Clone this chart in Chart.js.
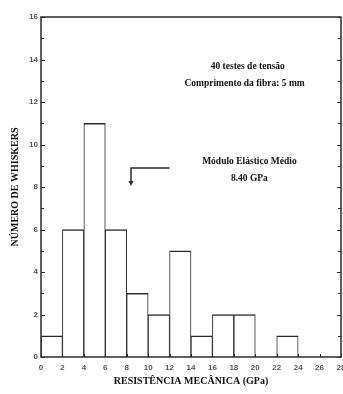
<!DOCTYPE html>
<html>
<head>
<meta charset="utf-8">
<script src="https://cdn.jsdelivr.net/npm/chart.js@4"></script>
<style>
  html, body { margin: 0; padding: 0; background: #fff; }
  #wrap { width: 343px; height: 394px; }
</style>
</head>
<body>
<div id="wrap"><canvas id="grafico"></canvas></div>
<script>
// classes de resistencia (GPa): centro de cada intervalo de 2 GPa
const centros = [1, 3, 5, 7, 9, 11, 13, 15, 17, 19, 21, 23, 25, 27];
const contagens = [1, 6, 11, 6, 3, 2, 5, 1, 2, 2, 0, 1, 0, 0];
const ticksX = [0, 2, 4, 6, 8, 10, 12, 14, 16, 18, 20, 22, 24, 26, 28];
const ticksY = [0, 2, 4, 6, 8, 10, 12, 14, 16];
const moduloMedio = 8.4;

const corLinha = '#2b2b2b';
const fonteSerif = '"Liberation Serif", "DejaVu Serif", serif';

// marcas internas, moldura e anotacoes
const extras = {
  id: 'extras',
  afterDraw(chart) {
    const { ctx, chartArea: a, scales: { x, y } } = chart;
    ctx.save();
    ctx.strokeStyle = corLinha;
    ctx.lineWidth = 1.5;
    ctx.strokeRect(a.left, a.top, a.right - a.left, a.bottom - a.top);

    ctx.lineWidth = 1;
    for (let v = 0; v <= 16; v++) {
      const py = Math.round(y.getPixelForValue(v)) + 0.5;
      const len = v % 2 === 0 ? 4 : 3;
      ctx.beginPath();
      ctx.moveTo(a.left, py); ctx.lineTo(a.left + len, py);
      ctx.moveTo(a.right, py); ctx.lineTo(a.right - len, py);
      ctx.stroke();
    }
    ticksX.forEach(v => {
      const px = Math.round(x.getPixelForValue(v)) + 0.5;
      ctx.beginPath();
      ctx.moveTo(px, a.bottom); ctx.lineTo(px, a.bottom - 3);
      ctx.stroke();
    });

    // textos
    ctx.fillStyle = '#111';
    ctx.textAlign = 'center';
    ctx.textBaseline = 'middle';
    ctx.font = 'bold 9.5px ' + fonteSerif;
    ctx.fillText('40 testes de tensão', x.getPixelForValue(19.3), y.getPixelForValue(13.68));
    ctx.fillText('Comprimento da fibra: 5 mm', x.getPixelForValue(19.0), y.getPixelForValue(12.85));
    ctx.fillText('Módulo Elástico Médio', x.getPixelForValue(19.45), y.getPixelForValue(9.18));
    ctx.fillText('8.40 GPa', x.getPixelForValue(19.45), y.getPixelForValue(8.4));

    // seta apontando para o modulo medio
    const xa = x.getPixelForValue(moduloMedio);
    const xb = x.getPixelForValue(12.0);
    const y1 = y.getPixelForValue(8.9);
    const y2 = y.getPixelForValue(8.05);
    ctx.strokeStyle = corLinha;
    ctx.lineWidth = 1.5;
    ctx.beginPath();
    ctx.moveTo(xb, y1); ctx.lineTo(xa, y1); ctx.lineTo(xa, y2 - 4);
    ctx.stroke();
    ctx.fillStyle = corLinha;
    ctx.beginPath();
    ctx.moveTo(xa - 2.5, y2 - 5); ctx.lineTo(xa + 2.5, y2 - 5); ctx.lineTo(xa, y2);
    ctx.closePath();
    ctx.fill();
    ctx.restore();
  }
};

function configurar() {
  const canvas = document.getElementById('grafico');
  new Chart(canvas, {
    type: 'bar',
    data: {
      datasets: [{
        data: centros.map((c, i) => ({ x: c, y: contagens[i] })),
        backgroundColor: '#ffffff',
        borderColor: corLinha,
        borderWidth: { top: 1.6, left: 1, right: 1, bottom: 0 },
        barPercentage: 1,
        categoryPercentage: 1,
      }],
    },
    options: {
      responsive: true,
      maintainAspectRatio: false,
      animation: false,
      layout: { padding: { top: 17, right: 2, left: 0, bottom: 0 } },
      plugins: { legend: { display: false }, tooltip: { enabled: false } },
      scales: {
        x: {
          type: 'linear',
          offset: false,
          min: 0,
          max: 28,
          afterBuildTicks(scale) { scale.ticks = ticksX.map(v => ({ value: v })); },
          afterFit(scale) { scale.height = 37; scale.paddingLeft = 0; scale.paddingRight = 0; },
          grid: { display: false, drawTicks: false },
          border: { display: false },
          ticks: {
            padding: 6,
            color: '#555',
            font: { family: '"Liberation Sans", sans-serif', size: 8, weight: 'bold' },
          },
          title: {
            display: true,
            text: 'RESISTÊNCIA MECÂNICA (GPa)',
            color: '#111',
            font: { family: fonteSerif, size: 10, weight: 'bold' },
            padding: { top: 0, bottom: 7 },
          },
        },
        y: {
          min: 0,
          max: 16,
          afterBuildTicks(scale) { scale.ticks = ticksY.map(v => ({ value: v })); },
          afterFit(scale) { scale.width = 41; scale.paddingTop = 0; scale.paddingBottom = 0; },
          grid: { display: false, drawTicks: false },
          border: { display: false },
          ticks: {
            padding: 3,
            color: '#555',
            font: { family: '"Liberation Sans", sans-serif', size: 8, weight: 'bold' },
          },
          title: {
            display: true,
            text: 'NÚMERO DE WHISKERS',
            color: '#111',
            font: { family: fonteSerif, size: 10, weight: 'bold' },
            padding: { top: 9, bottom: 0 },
          },
        },
      },
    },
    plugins: [extras],
  });
}

document.addEventListener('DOMContentLoaded', configurar);
</script>
</body>
</html>
